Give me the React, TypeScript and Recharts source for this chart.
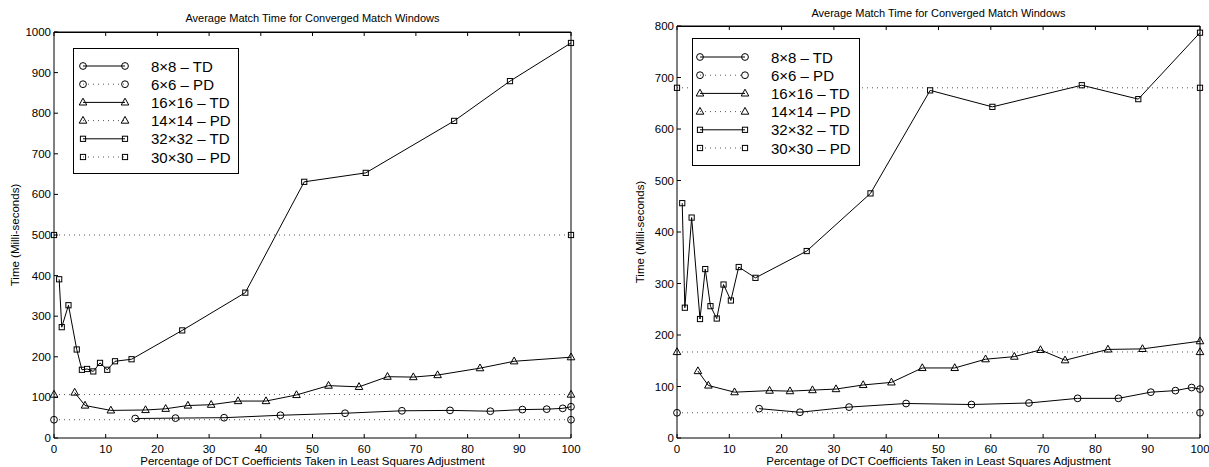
import React from 'react';
import { LineChart, Line, XAxis, YAxis, ReferenceLine } from 'recharts';

const FONT = '"Liberation Sans", Arial, Helvetica, sans-serif';

const TITLE = 'Average Match Time for Converged Match Windows';
const X_LABEL = 'Percentage of DCT Coefficients Taken in Least Squares Adjustment';
const Y_LABEL = 'Time (Milli-seconds)';

const seriesNames = ['8×8 – TD', '6×6 – PD', '16×16 – TD', '14×14 – PD', '32×32 – TD', '30×30 – PD'];
const seriesShapes = ['circle', 'circle', 'triangle', 'triangle', 'square', 'square'];
const seriesDotted = [false, true, false, true, false, true];

const xTicks = [0, 10, 20, 30, 40, 50, 60, 70, 80, 90, 100];
const pdRange = [0, 100];

// percentage positions of the TD samples
const pct8 = [15.7, 23.5, 32.9, 43.8, 56.3, 67.3, 76.6, 84.4, 90.6, 95.3, 98.4, 100];
const pct16 = [4.0, 6.0, 11.0, 17.7, 21.6, 25.9, 30.4, 35.6, 41.0, 46.9, 53.1, 59.0, 64.5, 69.5, 74.2, 82.4, 89.0, 100];
const pct32 = [1.0, 1.5, 2.8, 4.4, 5.4, 6.4, 7.6, 8.9, 10.3, 11.8, 15.0, 24.8, 37.0, 48.4, 60.3, 77.4, 88.2, 100];

// left chart values
const leftTd8 = [48, 49, 50, 56, 61, 67, 68, 66, 70, 71, 73, 77];
const leftTd16 = [112, 80, 68, 69, 72, 80, 82, 91, 91, 106, 129, 126, 151, 150, 155, 172, 189, 199];
const leftTd32 = [391, 273, 327, 218, 168, 170, 164, 185, 168, 189, 194, 265, 358, 631, 653, 781, 879, 973];
const leftPd = [45, 107, 500];
const leftYTicks = [0, 100, 200, 300, 400, 500, 600, 700, 800, 900, 1000];

// right chart values
const rightTd8 = [57, 50, 60, 67, 65, 68, 77, 77, 89, 92, 98, 95];
const rightTd16 = [130, 102, 89, 92, 91, 93, 95, 103, 108, 136, 136, 153, 158, 171, 151, 172, 173, 188];
const rightTd32 = [456, 253, 428, 231, 328, 256, 232, 298, 267, 332, 311, 363, 475, 675, 643, 685, 658, 787];
const rightPd = [49, 167, 680];
const rightYTicks = [0, 100, 200, 300, 400, 500, 600, 700, 800];

const toPoints = (xs: number[], ys: number[]) => xs.map((x, i) => ({ x, y: ys[i] }));

const Marker = ({ shape, cx, cy }: { shape: string; cx: number; cy: number }) => {
  if (cx == null || cy == null || isNaN(cx) || isNaN(cy)) return null;
  if (shape === 'circle') {
    return <circle cx={cx} cy={cy} r={3.4} fill="none" stroke="#000" strokeWidth={1} />;
  }
  if (shape === 'triangle') {
    const pts = `${cx},${cy - 4.2} ${cx - 3.8},${cy + 2.6} ${cx + 3.8},${cy + 2.6}`;
    return <polygon points={pts} fill="none" stroke="#000" strokeWidth={1} />;
  }
  return <rect x={cx - 2.6} y={cy - 2.6} width={5.2} height={5.2} fill="none" stroke="#000" strokeWidth={1} />;
};

const makeDot = (shape: string) => (p: any) => (
  <g key={`d-${p.index}`}>
    <Marker shape={shape} cx={p.cx} cy={p.cy} />
  </g>
);

const BottomTick = (props: any) => {
  const { x, y, payload } = props;
  const axisY = y - 6;
  return (
    <g>
      <line x1={x} x2={x} y1={axisY} y2={axisY - 4} stroke="#000" strokeWidth={1} />
      <text x={x} y={axisY + 14.5} textAnchor="middle" fontSize={11.5} fontFamily={FONT} fill="#000">
        {payload.value}
      </text>
    </g>
  );
};

const TopTickShape = (props: any) => {
  const { x1, y1, y2 } = props;
  if (x1 == null || y1 == null || y2 == null) return <g />;
  const top = Math.min(y1, y2);
  return <line x1={x1} x2={x1} y1={top} y2={top + 4} stroke="#000" strokeWidth={1} />;
};

const LeftTick = (props: any) => {
  const { x, y, payload } = props;
  const axisX = x + 3;
  return (
    <g>
      <line x1={axisX} x2={axisX + 4} y1={y} y2={y} stroke="#000" strokeWidth={1} />
      <text x={x} y={y + 4} textAnchor="end" fontSize={11.5} fontFamily={FONT} fill="#000">
        {payload.value}
      </text>
    </g>
  );
};

type PanelProps = {
  left: number;
  width: number;
  marginTop: number;
  marginRight: number;
  yAxisWidth: number;
  yMax: number;
  yTicks: number[];
  td8: number[];
  td16: number[];
  td32: number[];
  pd: number[];
  legend: { left: number; top: number; width: number; height: number; rowTop: number; lineX1: number; lineX2: number; textX: number };
  titleY: number;
  yLabelX: number;
};

const Legend = ({ legend }: { legend: PanelProps['legend'] }) => {
  const step = 18.2;
  return (
    <svg
      width={legend.width}
      height={legend.height}
      style={{ position: 'absolute', left: legend.left, top: legend.top, overflow: 'visible' }}
    >
      <rect x={0.5} y={0.5} width={legend.width - 1} height={legend.height - 1} fill="#fff" stroke="#000" strokeWidth={1} />
      {seriesNames.map((name, i) => {
        const cy = legend.rowTop + i * step;
        return (
          <g key={name}>
            <line
              x1={legend.lineX1}
              x2={legend.lineX2}
              y1={cy}
              y2={cy}
              stroke={seriesDotted[i] ? '#555' : '#000'}
              strokeWidth={1}
              strokeDasharray={seriesDotted[i] ? '1 4' : undefined}
            />
            <Marker shape={seriesShapes[i]} cx={legend.lineX1} cy={cy} />
            <Marker shape={seriesShapes[i]} cx={legend.lineX2} cy={cy} />
            <text x={legend.textX} y={cy + 5.5} fontSize={15} fontFamily={FONT} fill="#000">
              {name}
            </text>
          </g>
        );
      })}
    </svg>
  );
};

const Panel = (p: PanelProps) => {
  const height = 467;
  const plotLeft = p.left + p.yAxisWidth;
  const plotRight = p.left + p.width - p.marginRight;
  const plotTop = p.marginTop;
  const plotBottom = height - 29;
  const cx = (plotLeft + plotRight) / 2;
  const cy = (plotTop + plotBottom) / 2;
  const pdSeries = [
    { shape: 'circle', v: p.pd[0] },
    { shape: 'triangle', v: p.pd[1] },
    { shape: 'square', v: p.pd[2] },
  ];
  const tdSeries = [
    { shape: 'circle', data: toPoints(pct8, p.td8) },
    { shape: 'triangle', data: toPoints(pct16, p.td16) },
    { shape: 'square', data: toPoints(pct32, p.td32) },
  ];
  return (
    <>
      <div style={{ position: 'absolute', left: p.left, top: 0 }}>
        <LineChart
          width={p.width}
          height={height}
          margin={{ top: p.marginTop, right: p.marginRight, bottom: 0, left: 0 }}
        >
          <XAxis
            dataKey="x"
            type="number"
            domain={[0, 100]}
            ticks={xTicks}
            interval={0}
            height={29}
            tickSize={0}
            tickMargin={6}
            tickLine={false}
            tick={<BottomTick />}
            axisLine={{ stroke: '#000', strokeWidth: 1 }}
          />
          <YAxis
            type="number"
            domain={[0, p.yMax]}
            ticks={p.yTicks}
            interval={0}
            width={p.yAxisWidth}
            tickSize={0}
            tickMargin={3}
            tickLine={false}
            tick={<LeftTick />}
            axisLine={{ stroke: '#000', strokeWidth: 1 }}
          />
          <YAxis
            yAxisId="right"
            orientation="right"
            type="number"
            domain={[0, p.yMax]}
            ticks={p.yTicks}
            interval={0}
            mirror
            width={1}
            tick={false}
            tickSize={4}
            tickLine={{ stroke: '#000' }}
            axisLine={{ stroke: '#000', strokeWidth: 1 }}
          />
          <ReferenceLine y={p.yMax} stroke="#000" strokeWidth={1} ifOverflow="visible" />
          {xTicks.map((t) => (
            <ReferenceLine key={`tt-${t}`} x={t} shape={<TopTickShape />} ifOverflow="visible" />
          ))}
          {pdSeries.map((s, i) => (
            <Line
              key={`pd-${i}`}
              data={pdRange.map((x) => ({ x, y: s.v }))}
              dataKey="y"
              stroke="#555"
              strokeWidth={1}
              strokeDasharray="1 4"
              dot={makeDot(s.shape)}
              activeDot={false}
              isAnimationActive={false}
            />
          ))}
          {tdSeries.map((s, i) => (
            <Line
              key={`td-${i}`}
              data={s.data}
              dataKey="y"
              stroke="#000"
              strokeWidth={1}
              dot={makeDot(s.shape)}
              activeDot={false}
              isAnimationActive={false}
            />
          ))}
        </LineChart>
      </div>
      <div
        style={{
          position: 'absolute',
          left: plotLeft,
          top: plotTop - 0.5,
          width: plotRight - plotLeft,
          height: 0,
          borderTop: '1px solid #000',
        }}
      />
      <Legend legend={p.legend} />
      <div
        style={{
          position: 'absolute',
          left: cx - 200,
          width: 400,
          top: p.titleY - 7,
          textAlign: 'center',
          fontFamily: FONT,
          fontSize: 11,
          lineHeight: '14px',
          whiteSpace: 'nowrap',
        }}
      >
        {TITLE}
      </div>
      <div
        style={{
          position: 'absolute',
          left: cx - 250,
          width: 500,
          top: 454,
          textAlign: 'center',
          fontFamily: FONT,
          fontSize: 11.5,
          lineHeight: '14px',
          whiteSpace: 'nowrap',
        }}
      >
        {X_LABEL}
      </div>
      <div
        style={{
          position: 'absolute',
          left: p.yLabelX - 100,
          top: cy - 7,
          width: 200,
          textAlign: 'center',
          fontFamily: FONT,
          fontSize: 11.5,
          lineHeight: '14px',
          whiteSpace: 'nowrap',
          transform: 'rotate(-90deg)',
          transformOrigin: '50% 50%',
        }}
      >
        {Y_LABEL}
      </div>
    </>
  );
};

export default function App() {
  return (
    <div
      style={{
        position: 'absolute',
        left: 0,
        top: 0,
        width: 1209,
        height: 467,
        background: '#fff',
        overflow: 'hidden',
      }}
    >
      <Panel
        left={0}
        width={600}
        marginTop={32}
        marginRight={29}
        yAxisWidth={54}
        yMax={1000}
        yTicks={leftYTicks}
        td8={leftTd8}
        td16={leftTd16}
        td32={leftTd32}
        pd={leftPd}
        legend={{ left: 73, top: 48, width: 166, height: 126, rowTop: 18, lineX1: 10, lineX2: 52, textX: 78 }}
        titleY={18}
        yLabelX={15}
      />
      <Panel
        left={600}
        width={609}
        marginTop={26}
        marginRight={9}
        yAxisWidth={77}
        yMax={800}
        yTicks={rightYTicks}
        td8={rightTd8}
        td16={rightTd16}
        td32={rightTd32}
        pd={rightPd}
        legend={{ left: 692, top: 38, width: 168, height: 128, rowTop: 19, lineX1: 8, lineX2: 53, textX: 79 }}
        titleY={13}
        yLabelX={640}
      />
    </div>
  );
}
